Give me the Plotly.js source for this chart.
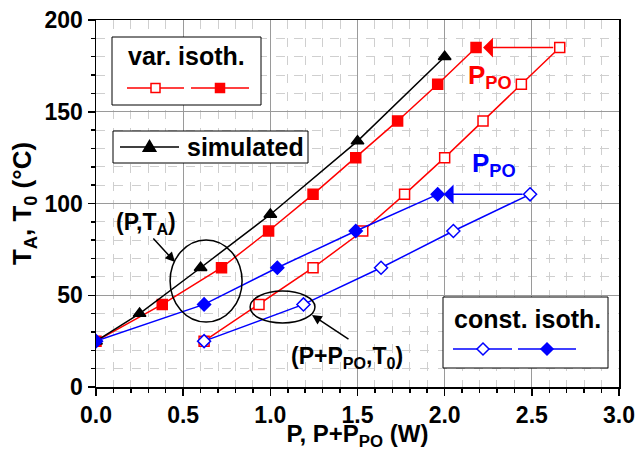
<!DOCTYPE html>
<html><head><meta charset="utf-8">
<script src="https://cdn.plot.ly/plotly-3.0.1.min.js"></script>
<style>html,body{margin:0;padding:0;background:#fff}#chart{width:638px;height:451px}</style>
</head><body><div id="chart"></div>
<script>
// simulated (P, T_A)
const simP = [0, 0.25, 0.6, 1.0, 1.5, 2.0];
const simT = [25, 40, 65, 94, 134, 180];
// variable isothermal: filled = (P, T_A), open = (P+P_PO, T_0)
const varFilledP = [0, 0.38, 0.72, 0.99, 1.245, 1.49, 1.73, 1.96, 2.18];
const varFilledT = [25, 45, 65, 85, 105, 125, 145, 165, 185];
const varOpenP = [0.62, 0.935, 1.245, 1.53, 1.77, 2.0, 2.22, 2.44, 2.66];
const varOpenT = [25, 45, 65, 85, 105, 125, 145, 165, 185];
// constant isothermal
const constFilledP = [0, 0.62, 1.04, 1.49, 1.96];
const constFilledT = [25, 45, 65, 85, 105];
const constOpenP = [0.62, 1.19, 1.635, 2.05, 2.49];
const constOpenT = [25, 45, 65, 85, 105];

const RED = '#ff0000', BLUE = '#0000ff', BLACK = '#000000';
const FONT = 'Liberation Sans, Arial, sans-serif';

function tr(x, y, color, symbol, filled, name, size) {
  return {
    x: x, y: y, type: 'scatter', mode: 'lines+markers', name: name, showlegend: false,
    line: {color: color, width: 1.5},
    marker: {symbol: symbol, size: size, color: filled ? color : 'white',
             line: {color: color, width: 1.5}},
    hoverinfo: 'skip'
  };
}

const traces = [
  tr(varOpenP, varOpenT, RED, 'square', false, 'var. isoth. (P+P_PO, T0)', 10),
  tr(varFilledP, varFilledT, RED, 'square', true, 'var. isoth. (P, TA)', 10),
  tr(simP, simT, BLACK, 'triangle-up', true, 'simulated', 11),
  tr(constOpenP, constOpenT, BLUE, 'diamond', false, 'const. isoth. (P+P_PO, T0)', 10),
  tr(constFilledP, constFilledT, BLUE, 'diamond', true, 'const. isoth. (P, TA)', 10)
];

const last = a => a[a.length - 1];

// pixel -> paper helpers for the hand-drawn legend boxes
const M = {l: 96, r: 19, t: 20, b: 64};
const PW = 638 - M.l - M.r, PH = 451 - M.t - M.b;
const PX = x => (x - M.l) / PW;
const PY = y => (451 - M.b - y) / PH;

const SQ = 'M-4.5,-4.5 L4.5,-4.5 L4.5,4.5 L-4.5,4.5 Z';
const DI = 'M0,6 L6,0 L0,-6 L-6,0 Z';
const TRI = 'M-6.3,-4.3 L6.3,-4.3 L0,6.5 Z';

function box(x0, y0, x1, y1) {
  return {type: 'rect', xref: 'paper', yref: 'paper', x0: PX(x0), x1: PX(x1), y0: PY(y1), y1: PY(y0),
          fillcolor: 'white', line: {color: '#000', width: 1}};
}
function hline(x0, x1, y, color) {
  return {type: 'line', xref: 'paper', yref: 'paper', x0: PX(x0), x1: PX(x1), y0: PY(y), y1: PY(y),
          line: {color: color, width: 1.5}};
}
function mark(path, x, y, color, filled) {
  return {type: 'path', xref: 'paper', yref: 'paper', xsizemode: 'pixel', ysizemode: 'pixel',
          xanchor: PX(x), yanchor: PY(y), path: path,
          fillcolor: filled ? color : 'white', line: {color: color, width: 1.5}};
}

const axisCommon = {
  showline: true, linecolor: '#000', linewidth: 1.5, mirror: true,
  ticks: 'outside', ticklen: 7, tickwidth: 1.5, tickcolor: '#000',
  showgrid: true, gridcolor: '#9a9a9a', gridwidth: 1,
  zeroline: false,
  tickfont: {family: FONT, size: 23, weight: 'bold', color: '#000'}
};

const layout = {
  width: 638, height: 451,
  margin: M,
  showlegend: false,
  paper_bgcolor: 'white', plot_bgcolor: 'white',
  font: {family: FONT, color: '#000'},
  xaxis: Object.assign({}, axisCommon, {
    range: [0, 3], dtick: 0.5, tickformat: '.1f',
    minor: {dtick: 0.1, ticks: 'outside', ticklen: 4, tickcolor: '#000',
            showgrid: true, gridcolor: '#cfcfcf', griddash: 'dash', gridwidth: 1},
    title: {text: 'P, P+P<sub>PO</sub> (W)', standoff: 3,
            font: {family: FONT, size: 24, weight: 'bold', color: '#000'}}
  }),
  yaxis: Object.assign({}, axisCommon, {
    range: [0, 200], dtick: 50,
    minor: {dtick: 10, ticks: 'outside', ticklen: 4, tickcolor: '#000',
            showgrid: true, gridcolor: '#cfcfcf', griddash: 'dash', gridwidth: 1},
    title: {text: 'T<sub>A</sub>, T<sub>0</sub> (°C)', standoff: 5,
            font: {family: FONT, size: 26, weight: 'bold', color: '#000'}}
  }),
  shapes: [
    {type: 'circle', xref: 'x', yref: 'y', x0: 0.425, x1: 0.838, y0: 35.4, y1: 80.1,
     line: {color: '#000', width: 1.5}},
    {type: 'circle', xref: 'x', yref: 'y', x0: 0.884, x1: 1.256, y0: 34.9, y1: 52.3,
     line: {color: '#000', width: 1.5}},
    // legend: var. isoth.
    box(112, 37, 261, 105),
    hline(127, 184, 88, RED), mark(SQ, 155.5, 88, RED, false),
    hline(191, 249, 88, RED), mark(SQ, 220, 88, RED, true),
    // legend: simulated
    box(113, 131, 308, 163),
    hline(120, 179, 147, BLACK), mark(TRI, 149.5, 147, BLACK, true),
    // legend: const. isoth.
    box(443, 297, 608, 368),
    hline(453, 512, 349, BLUE), mark(DI, 483, 349, BLUE, false),
    hline(518, 576, 349, BLUE), mark(DI, 547, 349, BLUE, true)
  ],
  annotations: [
    {x: PX(186), y: PY(56), xref: 'paper', yref: 'paper', text: 'var. isoth.', showarrow: false,
     xanchor: 'center', yanchor: 'middle', font: {family: FONT, size: 25, weight: 'bold', color: '#000'}},
    {x: PX(185), y: PY(147), xref: 'paper', yref: 'paper', text: 'simulated', showarrow: false,
     xanchor: 'left', yanchor: 'middle', font: {family: FONT, size: 25, weight: 'bold', color: '#000'}},
    {x: PX(527), y: PY(319), xref: 'paper', yref: 'paper', text: 'const. isoth.', showarrow: false,
     xanchor: 'center', yanchor: 'middle', font: {family: FONT, size: 25, weight: 'bold', color: '#000'}},
    // P_PO arrows from open end point to filled end point
    {x: last(varFilledP), y: last(varFilledT), ax: last(varOpenP), ay: last(varOpenT),
     xref: 'x', yref: 'y', axref: 'x', ayref: 'y', text: '', showarrow: true,
     arrowhead: 1, arrowsize: 2.2, arrowwidth: 1.5, arrowcolor: RED, standoff: 7, startstandoff: 5},
    {x: last(constFilledP), y: last(constFilledT), ax: last(constOpenP), ay: last(constOpenT),
     xref: 'x', yref: 'y', axref: 'x', ayref: 'y', text: '', showarrow: true,
     arrowhead: 1, arrowsize: 2.2, arrowwidth: 1.5, arrowcolor: BLUE, standoff: 6, startstandoff: 6},
    {x: 2.26, y: 169, xref: 'x', yref: 'y', text: 'P<sub>PO</sub>', showarrow: false,
     font: {family: FONT, size: 26, weight: 'bold', color: RED}},
    {x: 2.285, y: 121, xref: 'x', yref: 'y', text: 'P<sub>PO</sub>', showarrow: false,
     font: {family: FONT, size: 26, weight: 'bold', color: BLUE}},
    {x: 0.287, y: 89, xref: 'x', yref: 'y', text: '(P,T<sub>A</sub>)', showarrow: false,
     font: {family: FONT, size: 23, weight: 'bold', color: '#000'}},
    {x: 1.44, y: 16, xref: 'x', yref: 'y', text: '(P+P<sub>PO</sub>,T<sub>0</sub>)', showarrow: false,
     font: {family: FONT, size: 23, weight: 'bold', color: '#000'}},
    // pointer arrows to the ellipses
    {x: 0.453, y: 68.1, ax: 0.321, ay: 81.7, xref: 'x', yref: 'y', axref: 'x', ayref: 'y',
     text: '', showarrow: true, arrowhead: 2, arrowsize: 1.3, arrowwidth: 1.5, arrowcolor: '#000'},
    {x: 1.239, y: 39.2, ax: 1.457, ay: 25.6, xref: 'x', yref: 'y', axref: 'x', ayref: 'y',
     text: '', showarrow: true, arrowhead: 2, arrowsize: 1.3, arrowwidth: 1.5, arrowcolor: '#000'}
  ]
};

Plotly.newPlot('chart', traces, layout, {displayModeBar: false, staticPlot: true});
</script>
</body></html>
